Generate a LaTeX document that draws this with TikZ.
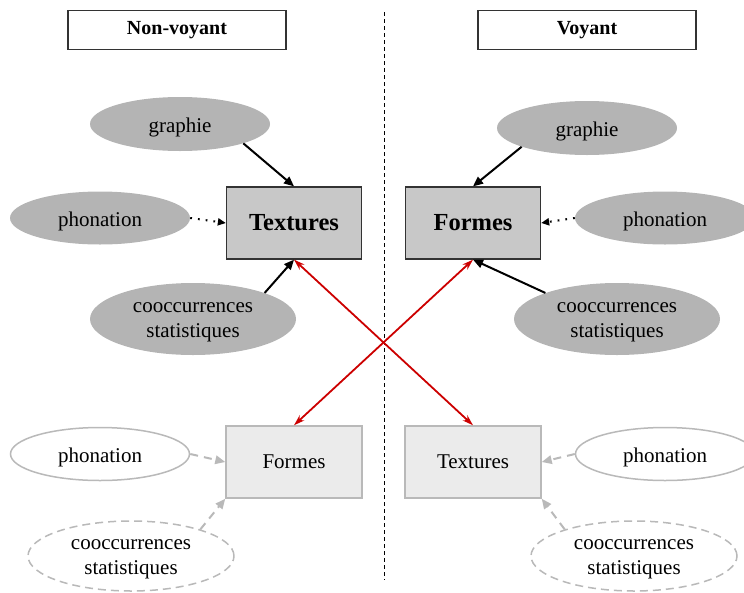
\documentclass[tikz,border=0pt]{standalone}
\usepackage{fontspec}
\setmainfont{Liberation Serif}
\usetikzlibrary{shapes.geometric,arrows.meta}
\definecolor{ellgrey}{RGB}{180,180,180}
\definecolor{boxgrey}{RGB}{200,200,200}
\definecolor{boxedge}{RGB}{51,51,51}
\definecolor{lightfill}{RGB}{235,235,235}
\definecolor{lightedge}{RGB}{185,185,185}
\definecolor{redline}{RGB}{204,0,0}
\tikzset{
  txt/.style={font=\fontsize{21}{25}\selectfont, align=center, text=black},
  elltxt/.style={txt, yshift=-3.5pt, inner sep=0pt},
  titlebox/.style={draw=boxedge, line width=1.3pt, fill=white, minimum width=218pt, minimum height=39pt, inner sep=0pt, font=\bfseries\fontsize{20}{24}\selectfont},
  mainbox/.style={draw=boxedge, line width=1.3pt, fill=boxgrey, minimum width=135pt, minimum height=72pt, inner sep=0pt, font=\bfseries\fontsize{24.5}{28}\selectfont},
  lightbox/.style={draw=lightedge, line width=1.5pt, fill=lightfill, minimum width=136pt, minimum height=72pt, inner sep=0pt, txt},
  greyell/.style={ellipse, fill=ellgrey, draw=none, inner sep=0pt},
  whiteell/.style={ellipse, fill=white, draw=lightedge, line width=1.5pt, inner sep=0pt},
  dashell/.style={ellipse, fill=white, draw=lightedge, line width=1.5pt, dash pattern=on 8pt off 5pt, inner sep=0pt},
  blackarr/.style={line width=2pt, -{Triangle[length=10pt,width=8.5pt]}},
  dotarr/.style={line width=2pt, dash pattern=on 1.8pt off 6pt, -{Triangle[length=8pt,width=7pt]}},
  greyarr/.style={draw=lightedge, line width=2pt, dash pattern=on 8pt off 6pt, -{Triangle[length=10pt,width=8.5pt,fill=lightedge]}},
  redarr/.style={draw=redline, line width=1.8pt, {Stealth[length=11pt,width=7pt]}-{Stealth[length=11pt,width=7pt]}},
}
\begin{document}
\begin{tikzpicture}[x=1pt,y=-1pt]
\useasboundingbox (0,0) rectangle (744,592);
% separator
\coordinate (septop) at (384,12);
\coordinate (sepbot) at (384,580);
\draw[line width=1pt, dash pattern=on 4pt off 3pt] (septop) -- (sepbot);
% titles
\node[titlebox] (nv) at (177,30) {Non-voyant};
\node[titlebox] (v) at (587,30) {Voyant};
% top left
\node[greyell, minimum width=180pt, minimum height=54pt, label={[elltxt, name=g1t]center:graphie}] (g1) at (180,124) {};
\node[greyell, minimum width=180pt, minimum height=53pt, label={[elltxt, name=p1t]center:phonation}] (p1) at (100,218) {};
\node[greyell, minimum width=206pt, minimum height=72pt, label={[elltxt, name=c1t]center:{cooccurrences\\statistiques}}] (c1) at (193,319) {};
\node[mainbox] (tx) at (294,223) {Textures};
% top right
\node[greyell, minimum width=180pt, minimum height=54pt, label={[elltxt, name=g2t]center:graphie}] (g2) at (587,128) {};
\node[greyell, minimum width=180pt, minimum height=53pt, label={[elltxt, name=p2t]center:phonation}] (p2) at (665,218) {};
\node[greyell, minimum width=206pt, minimum height=72pt, label={[elltxt, name=c2t]center:{cooccurrences\\statistiques}}] (c2) at (617,319) {};
\node[mainbox] (fx) at (473,223) {Formes};
% bottom left
\node[lightbox] (fb) at (294,462) {Formes};
\node[whiteell, minimum width=179pt, minimum height=53pt, label={[elltxt, name=p3t]center:phonation}] (p3) at (100,454) {};
\node[dashell, minimum width=206pt, minimum height=70pt, label={[elltxt, name=c3t]center:{cooccurrences\\statistiques}}] (c3) at (131,556) {};
% bottom right
\node[lightbox] (tb) at (473,462) {Textures};
\node[whiteell, minimum width=179pt, minimum height=53pt, label={[elltxt, name=p4t]center:phonation}] (p4) at (665,454) {};
\node[dashell, minimum width=206pt, minimum height=70pt, label={[elltxt, name=c4t]center:{cooccurrences\\statistiques}}] (c4) at (634,556) {};
% black arrows
\draw[blackarr] (g1.-17) -- (tx.north);
\draw[blackarr] (g2.-164) -- (fx.north);
\draw[dotarr] (p1.east) -- (tx.west);
\draw[dotarr] (p2.west) -- (fx.east);
\draw[blackarr] (c1.20) -- (tx.south);
\draw[blackarr] (c2.160) -- (fx.south);
% red
\draw[redarr] (tx.south) -- (tb.north);
\draw[redarr] (fx.south) -- (fb.north);
% grey
\draw[greyarr] (p3.east) -- (fb.west);
\draw[greyarr] (c3.21) -- (fb.south west);
\draw[greyarr] (p4.west) -- (tb.east);
\draw[greyarr] (c4.159) -- (tb.south east);
\end{tikzpicture}
\end{document}
